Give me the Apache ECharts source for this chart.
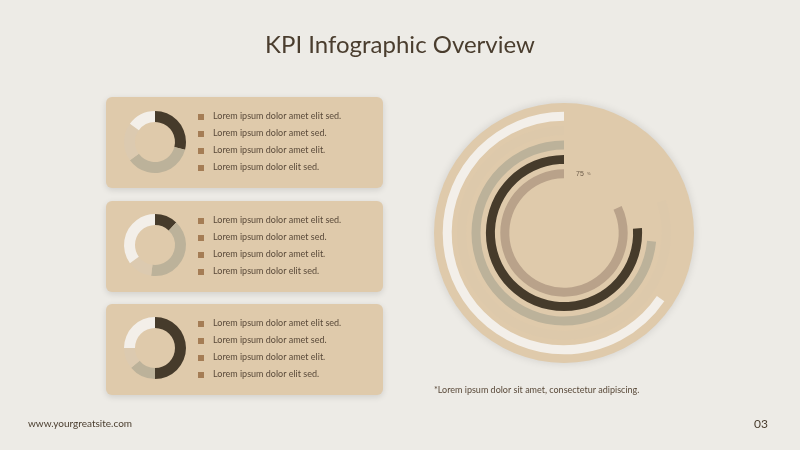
<!DOCTYPE html>
<html>
<head>
<meta charset="utf-8">
<title>KPI</title>
<script src="https://cdn.jsdelivr.net/npm/echarts@6/dist/echarts.min.js"></script>
<style>html,body{margin:0;padding:0;background:#edebe6}#chart{width:800px;height:450px}</style>
</head>
<body>
<div id="chart"></div>
<script>
// donut cards: dark, grey, beige, white shares (%)
var donutNames = ['A', 'B', 'C', 'D'];
var donut1 = [29, 36, 20, 15];
var donut2 = [12, 40, 13, 35];
var donut3 = [50, 14, 11, 25];
var bulletText = ['Lorem ipsum dolor amet elit sed.', 'Lorem ipsum dolor amet sed.', 'Lorem ipsum dolor amet elit.', 'Lorem ipsum dolor elit sed.'];
// radial bars inner -> outer
var ringLabels = ['75', '70', '65', '80', '55'];
var ringValues = [82, 76, 73.5, 80, 65.5];

var donutColors = ['#463b2b', '#bcb29a', '#dccab0', '#f3efe9'];
var ringColors = ['#b9a28a', '#463b2b', '#bcb29a', '#ddc9ab', '#f3efe9'];
var cardTops = [97, 201, 304];
var txt = '#5a4a3a';

var graphics = [
  {type: 'text', left: 'center', top: 33, style: {text: 'KPI Infographic Overview', font: '24px Lato', fill: '#4a3d2e'}},
  {type: 'text', left: 28, top: 419, style: {text: 'www.yourgreatsite.com', font: '10px Lato', fill: '#4a3d2e', letterSpacing: 0.5}},
  {type: 'text', left: 754, top: 418, style: {text: '03', font: '12px Lato', fill: '#4a3d2e'}},
  {type: 'text', left: 434, top: 386, style: {text: '*Lorem ipsum dolor sit amet, consectetur adipiscing.', font: '9px Lato', fill: txt}},
  {type: 'circle', shape: {cx: 564, cy: 233, r: 130}, style: {fill: '#dfcaab', shadowBlur: 8, shadowColor: 'rgba(0,0,0,0.12)'}, z: -1}
];
cardTops.forEach(function (t) {
  graphics.push({type: 'rect', shape: {x: 106, y: t, width: 277, height: 91, r: 6}, style: {fill: '#dfcaab', shadowBlur: 6, shadowOffsetY: 2, shadowColor: 'rgba(0,0,0,0.12)'}, z: -1});
  bulletText.forEach(function (s, i) {
    graphics.push({type: 'rect', shape: {x: 198, y: t + 17 + i * 17, width: 6, height: 6}, style: {fill: '#a57d55'}});
    graphics.push({type: 'text', x: 213, y: t + 15 + i * 17, style: {text: s, font: '9px Lato', fill: txt}});
  });
});

function donut(data, cy) {
  return {
    type: 'pie', radius: [20, 31], center: [155, cy], startAngle: 90, clockwise: true,
    label: {show: false}, silent: true,
    data: data.map(function (v, i) { return {name: donutNames[i], value: v, itemStyle: {color: donutColors[i]}}; })
  };
}

var myChart = echarts.init(document.getElementById('chart'));
myChart.setOption({
  backgroundColor: '#edebe6',
  animation: false,
  graphic: graphics,
  polar: {center: [564, 233], radius: [52, 124]},
  angleAxis: {max: 100, startAngle: 90, clockwise: false, show: false},
  radiusAxis: {
    type: 'category', data: ringLabels, z: 10,
    axisLine: {show: false}, axisTick: {show: false},
    axisLabel: {show: true, formatter: '{a|{value}} {b|%}', margin: -12, align: 'left',
      rich: {a: {fontSize: 7, color: '#6b5b48'}, b: {fontSize: 4, color: '#6b5b48'}}}
  },
  series: [
    {
      type: 'bar', coordinateSystem: 'polar', barWidth: 9, silent: true,
      data: ringValues.map(function (v, i) { return {value: v, itemStyle: {color: ringColors[i]}}; })
    },
    donut(donut1, 142), donut(donut2, 245), donut(donut3, 348)
  ]
});
</script>
</body>
</html>
